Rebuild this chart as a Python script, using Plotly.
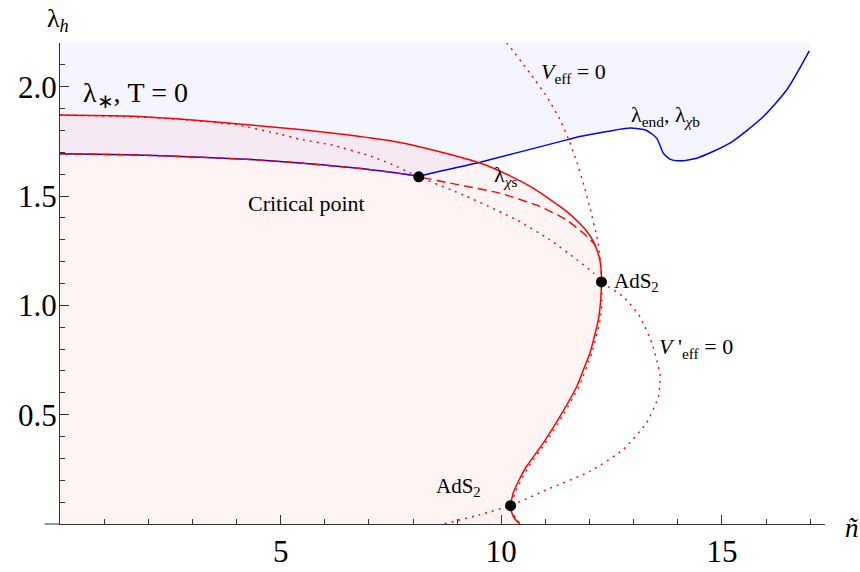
import plotly.graph_objects as go

# ---------------- data ----------------
# lambda_* (T=0) boundary, solid red
red_x = [0, 1.5, 3.0, 4.5, 5.5, 6.5, 7.7, 8.6, 9.52, 10.2, 10.73, 11.1, 11.48, 11.75, 11.94,
         12.08, 12.16, 12.23, 12.26, 12.27, 12.25, 12.2, 12.1, 12.01, 11.85, 11.71, 11.33,
         10.95, 10.57, 10.4, 10.27, 10.21, 10.24, 10.3, 10.42]
red_y = [1.871, 1.866, 1.848, 1.822, 1.803, 1.780, 1.745, 1.703, 1.651, 1.592, 1.535, 1.485,
         1.430, 1.380, 1.338, 1.295, 1.258, 1.210, 1.165, 1.107, 1.020, 0.934, 0.850, 0.782,
         0.700, 0.629, 0.492, 0.370, 0.263, 0.200, 0.142, 0.084, 0.050, 0.025, 0.0]

# lambda_end, lambda_chi_b (blue): left branch up to the critical point, right branch after it
blue_left_x = [0, 1.5, 3.17, 4.5, 5.44, 6.95, 8.01, 8.13]
blue_left_y = [1.693, 1.689, 1.678, 1.665, 1.651, 1.623, 1.594, 1.588]
blue_right_x = [8.13, 8.27, 9.52, 11.48, 11.78, 12.39, 12.92, 13.29, 13.52, 13.60, 13.67,
                13.82, 14.05, 14.43, 15.18, 15.94, 16.47, 16.98]
blue_right_y = [1.588, 1.597, 1.655, 1.757, 1.772, 1.795, 1.811, 1.800, 1.765, 1.730, 1.696,
                1.669, 1.661, 1.673, 1.742, 1.864, 1.986, 2.164]

# lambda_chi_s (red dashed)
chis_x = [0, 1.5, 3.17, 4.5, 5.44, 6.95, 8.01, 8.13, 8.84, 9.97, 10.88, 11.48, 11.90, 12.09, 12.16]
chis_y = [1.693, 1.689, 1.678, 1.665, 1.651, 1.623, 1.594, 1.588, 1.559, 1.513, 1.452, 1.391,
          1.323, 1.285, 1.258]

# V'_eff = 0 (red dotted)
vp_x = [0, 2.0, 3.0, 4.0, 5.0, 5.44, 6.19, 7.0, 7.5, 7.93, 8.13, 9.22, 10.35, 11.10, 11.71,
        12.09, 12.27, 12.42, 12.76, 13.14, 13.41, 13.56, 13.60, 13.56, 13.29, 12.76, 12.01,
        11.03, 10.21, 9.52, 8.69]
vp_y = [1.871, 1.860, 1.846, 1.826, 1.782, 1.760, 1.732, 1.685, 1.647, 1.606, 1.588, 1.498,
        1.391, 1.300, 1.209, 1.148, 1.107, 1.086, 1.041, 0.949, 0.828, 0.720, 0.675, 0.583,
        0.462, 0.340, 0.241, 0.157, 0.084, 0.043, 0.0]

# V_eff = 0 (red dotted)
v_x = [10.12, 10.65, 11.03, 11.33, 11.53, 11.72, 11.87, 12.0, 12.18, 12.25, 12.27, 12.28,
       12.24, 12.05, 11.76, 11.38, 11.00, 10.62, 10.31, 10.24, 10.27, 10.33, 10.45]
v_y = [2.202, 2.062, 1.955, 1.849, 1.757, 1.650, 1.550, 1.452, 1.300, 1.200, 1.107, 1.020,
       0.934, 0.782, 0.629, 0.492, 0.370, 0.263, 0.142, 0.084, 0.050, 0.025, 0.0]

# special points: critical point, AdS2 (upper), AdS2 (lower)
pts_x = [8.13, 12.27, 10.21]
pts_y = [1.588, 1.107, 0.084]

x_ticks = [5, 10, 15]
x_tick_text = ["5", "10", "15"]
x_minor = [1, 2, 3, 4, 6, 7, 8, 9, 11, 12, 13, 14, 16, 17]
y_ticks = [0.5, 1.0, 1.5, 2.0]
y_tick_text = ["0.5", "1.0", "1.5", "2.0"]
y_minor = [0.1, 0.2, 0.3, 0.4, 0.6, 0.7, 0.8, 0.9, 1.1, 1.2, 1.3, 1.4, 1.6, 1.7, 1.8, 1.9, 2.1]

X_RANGE = [0, 17.335]
Y_RANGE = [0, 2.2]
X_FILL_END = 17.0

# ---------------- figure ----------------
fig = go.Figure()

# pink region (inside the lambda_* boundary)
fig.add_trace(go.Scatter(
    x=[0] + red_x + [0], y=[red_y[0]] + red_y + [0],
    fill="toself", fillcolor="rgba(255,0,0,0.042)", line=dict(width=0, shape="spline", smoothing=0.5),
    mode="lines", hoverinfo="skip"))

# blue region (above lambda_end)
blue_x = blue_left_x + blue_right_x[1:]
blue_y = blue_left_y + blue_right_y[1:]
blue_fill_end_y = blue_y[-1] + (blue_y[-1] - blue_y[-2]) / (blue_x[-1] - blue_x[-2]) * (X_FILL_END - blue_x[-1])
fig.add_trace(go.Scatter(
    x=blue_x + [X_FILL_END, X_FILL_END, 0],
    y=blue_y + [blue_fill_end_y, Y_RANGE[1], Y_RANGE[1]],
    fill="toself", fillcolor="rgba(0,0,255,0.038)", line=dict(width=0),
    mode="lines", hoverinfo="skip"))

red = "rgb(255,0,0)"
blue = "rgb(0,0,255)"
fig.add_trace(go.Scatter(x=blue_left_x, y=blue_left_y, mode="lines",
                         line=dict(color=blue, width=1.5, shape="spline", smoothing=0.6)))
fig.add_trace(go.Scatter(x=blue_right_x, y=blue_right_y, mode="lines",
                         line=dict(color=blue, width=1.5, shape="spline", smoothing=0.6)))
fig.add_trace(go.Scatter(x=red_x, y=red_y, mode="lines",
                         line=dict(color=red, width=1.5, shape="spline", smoothing=0.5)))
fig.add_trace(go.Scatter(x=chis_x, y=chis_y, mode="lines",
                         line=dict(color=red, width=1.4, dash="9px,5px", shape="spline", smoothing=0.5)))
fig.add_trace(go.Scatter(x=vp_x, y=vp_y, mode="lines",
                         line=dict(color=red, width=1.4, dash="2px,5px", shape="spline", smoothing=0.5)))
fig.add_trace(go.Scatter(x=v_x, y=v_y, mode="lines",
                         line=dict(color=red, width=1.4, dash="2px,5px", shape="spline", smoothing=0.5)))
fig.add_trace(go.Scatter(x=pts_x, y=pts_y, mode="markers",
                         marker=dict(color="black", size=11), cliponaxis=False))

axis_color = "#333333"
tick_font = dict(family="Liberation Serif", size=31, color="black")

fig.update_layout(
    width=860, height=572,
    margin=dict(l=60, r=35, t=43, b=48, autoexpand=False),
    paper_bgcolor="white", plot_bgcolor="white",
    showlegend=False,
    xaxis=dict(range=X_RANGE, showgrid=False, zeroline=False, automargin=False,
               showline=True, linecolor=axis_color, linewidth=1,
               tickmode="array", tickvals=x_ticks, ticktext=x_tick_text,
               ticks="inside", ticklen=9, tickcolor=axis_color, tickfont=tick_font,
               minor=dict(tickmode="array", tickvals=x_minor, ticks="inside",
                          ticklen=5, tickcolor=axis_color, showgrid=False)),
    yaxis=dict(range=Y_RANGE, showgrid=False, zeroline=False, automargin=False,
               showline=True, linecolor=axis_color, linewidth=1,
               tickmode="array", tickvals=y_ticks, ticktext=y_tick_text,
               ticks="inside", ticklen=9, tickcolor=axis_color, tickfont=tick_font,
               ticklabelstandoff=-4,
               minor=dict(tickmode="array", tickvals=y_minor, ticks="inside",
                          ticklen=5, tickcolor=axis_color, showgrid=False)),
)

# small extension of the x axis line to the left of the origin
fig.add_shape(type="line", xref="paper", yref="paper", x0=-0.02, x1=0, y0=0, y1=0,
              line=dict(color=axis_color, width=1))

serif = "Liberation Serif"


def label(text, x, y, size, ref="data"):
    r = "x" if ref == "data" else "paper"
    fig.add_annotation(x=x, y=y, xref=r, yref=("y" if ref == "data" else "paper"),
                       text=text, showarrow=False, xanchor="left", yanchor="middle",
                       font=dict(family=serif, size=size, color="black"))


label("λ<sub><i>h</i></sub>", -0.02, 1.048, 26, ref="paper")
label("<i>ñ</i>", 1.024, -0.008, 27, ref="paper")
label("λ<sub>∗</sub>, T = 0", 0.47, 1.965, 28)
label("Critical point", 4.22, 1.465, 22)
label("λ<sub><i>χ</i>s</sub>", 9.8, 1.593, 22)
label("<i>V</i><sub>eff</sub> = 0", 10.86, 2.064, 22)
label("λ<sub>end</sub>, λ<sub><i>χ</i>b</sub>", 12.9, 1.867, 22)
label("AdS<sub>2</sub>", 12.5, 1.108, 21)
label("<i>V</i> '<sub>eff</sub> = 0", 13.52, 0.807, 22)
label("AdS<sub>2</sub>", 8.47, 0.171, 21)

# remove the browser's default 8px page margin so the figure sits at the window origin
fig.write_html("out.html", config={"displayModeBar": False},
               post_script="document.body.style.margin='0';")
